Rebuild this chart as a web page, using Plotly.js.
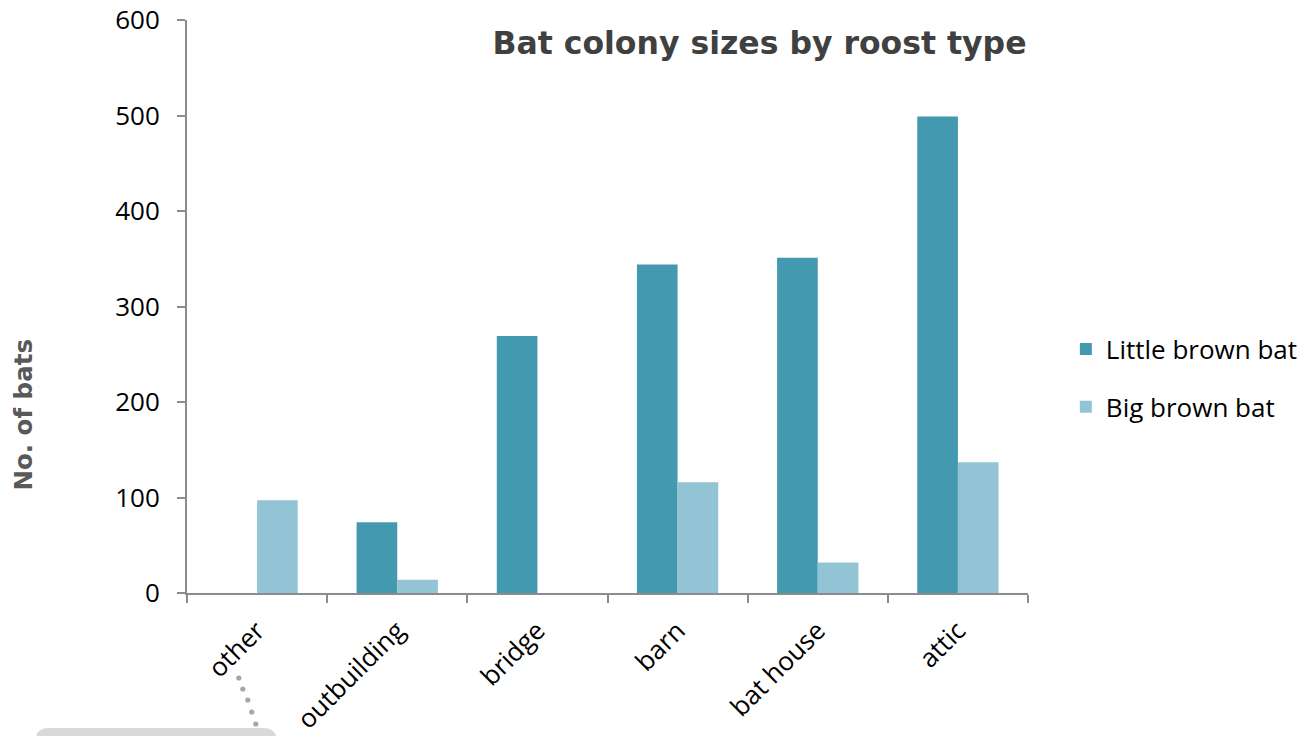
<!DOCTYPE html>
<html>
<head>
<meta charset="utf-8">
<script src="https://cdn.plot.ly/plotly-3.0.1.min.js"></script>
<style>html,body{margin:0;padding:0;background:#fff;}#chart{width:1315px;height:736px;}</style>
</head>
<body>
<div id="chart"></div>
<script>
const categories = ["other", "outbuilding", "bridge", "barn", "bat house", "attic"];
const littleBrownBat = [0, 74, 269, 344, 351, 499];
const bigBrownBat = [97, 14, 0, 116, 32, 137];
const seriesNames = ["Little brown bat", "Big brown bat"];
const yTicks = [0, 100, 200, 300, 400, 500, 600];

const M = {l: 187, r: 284, t: 20, b: 143};
const W = 1315, H = 736;
const PW = W - M.l - M.r, PH = H - M.t - M.b;
const px = v => (v - M.l) / PW;
const py = v => (H - M.b - v) / PH;

const tickFont = {family: "Open Sans, Lato, sans-serif", size: 26, color: "#000"};

const traces = [
  {type: "bar", name: seriesNames[0], x: categories, y: littleBrownBat,
   marker: {color: "#4399B0"}, legendgroup: "a"},
  {type: "bar", name: seriesNames[1], x: categories, y: bigBrownBat,
   marker: {color: "#93C4D5"}, legendgroup: "b"}
];

const dots = [[239, 678], [243, 689], [248, 700], [252, 712], [256, 724]].map(([cx, cy]) => ({
  type: "circle", xref: "paper", yref: "paper",
  x0: px(cx - 2.6), x1: px(cx + 2.6), y0: py(cy + 2.6), y1: py(cy - 2.6),
  fillcolor: "#a6a6a6", line: {width: 0}
}));

const bx0 = px(35), bx1 = px(277), by0 = py(728), by1 = py(770);
const rx = 13 / PW, ry = 13 / PH;
const boxPath = `M ${bx0},${by0 - ry} Q ${bx0},${by0} ${bx0 + rx},${by0} L ${bx1 - rx},${by0} Q ${bx1},${by0} ${bx1},${by0 - ry} L ${bx1},${by1} L ${bx0},${by1} Z`;

const layout = {
  width: W, height: H,
  margin: M,
  paper_bgcolor: "#fff", plot_bgcolor: "#fff",
  barmode: "group", bargap: 0.42, bargroupgap: 0,
  title: {text: "Bat colony sizes by roost type",
          font: {family: "DejaVu Sans, sans-serif", size: 31.5, color: "#404040", weight: "bold"},
          x: (759.5) / W, xanchor: "center", xref: "container", y: 1 - 43 / H, yanchor: "middle", yref: "container"},
  xaxis: {type: "category", showline: true, linecolor: "#8c8c8c", linewidth: 2,
          ticks: "outside", tickson: "boundaries", ticklen: 8, tickcolor: "#8c8c8c", tickwidth: 2,
          ticklabelstandoff: 10,
          tickangle: -45, tickfont: tickFont, showgrid: false, zeroline: false, fixedrange: true},
  yaxis: {range: [0, 600], tickvals: yTicks, ticktext: yTicks.map(String),
          showline: true, linecolor: "#8c8c8c", linewidth: 2,
          ticks: "outside", ticklen: 8, tickcolor: "#8c8c8c", tickwidth: 2, ticklabelstandoff: 12,
          tickfont: tickFont, showgrid: false, zeroline: false, fixedrange: true},
  legend: {x: 1.045, xanchor: "left", y: 0.375, yanchor: "middle",
           font: {family: "Open Sans, Lato, sans-serif", size: 26, color: "#000"},
           tracegroupgap: 21, bgcolor: "rgba(0,0,0,0)"},
  annotations: [
    {text: "<b>No. of bats</b>", xref: "paper", yref: "paper", x: px(22), y: py(415),
     xanchor: "center", yanchor: "middle", textangle: -90, showarrow: false,
     font: {family: "DejaVu Sans, sans-serif", size: 24.5, color: "#595959"}}
  ],
  shapes: [
    {type: "path", xref: "paper", yref: "paper", path: boxPath,
     fillcolor: "#d9d9d9", line: {width: 0}}
  ].concat(dots)
};

Plotly.newPlot("chart", traces, layout, {displayModeBar: false, staticPlot: true});
</script>
</body>
</html>
